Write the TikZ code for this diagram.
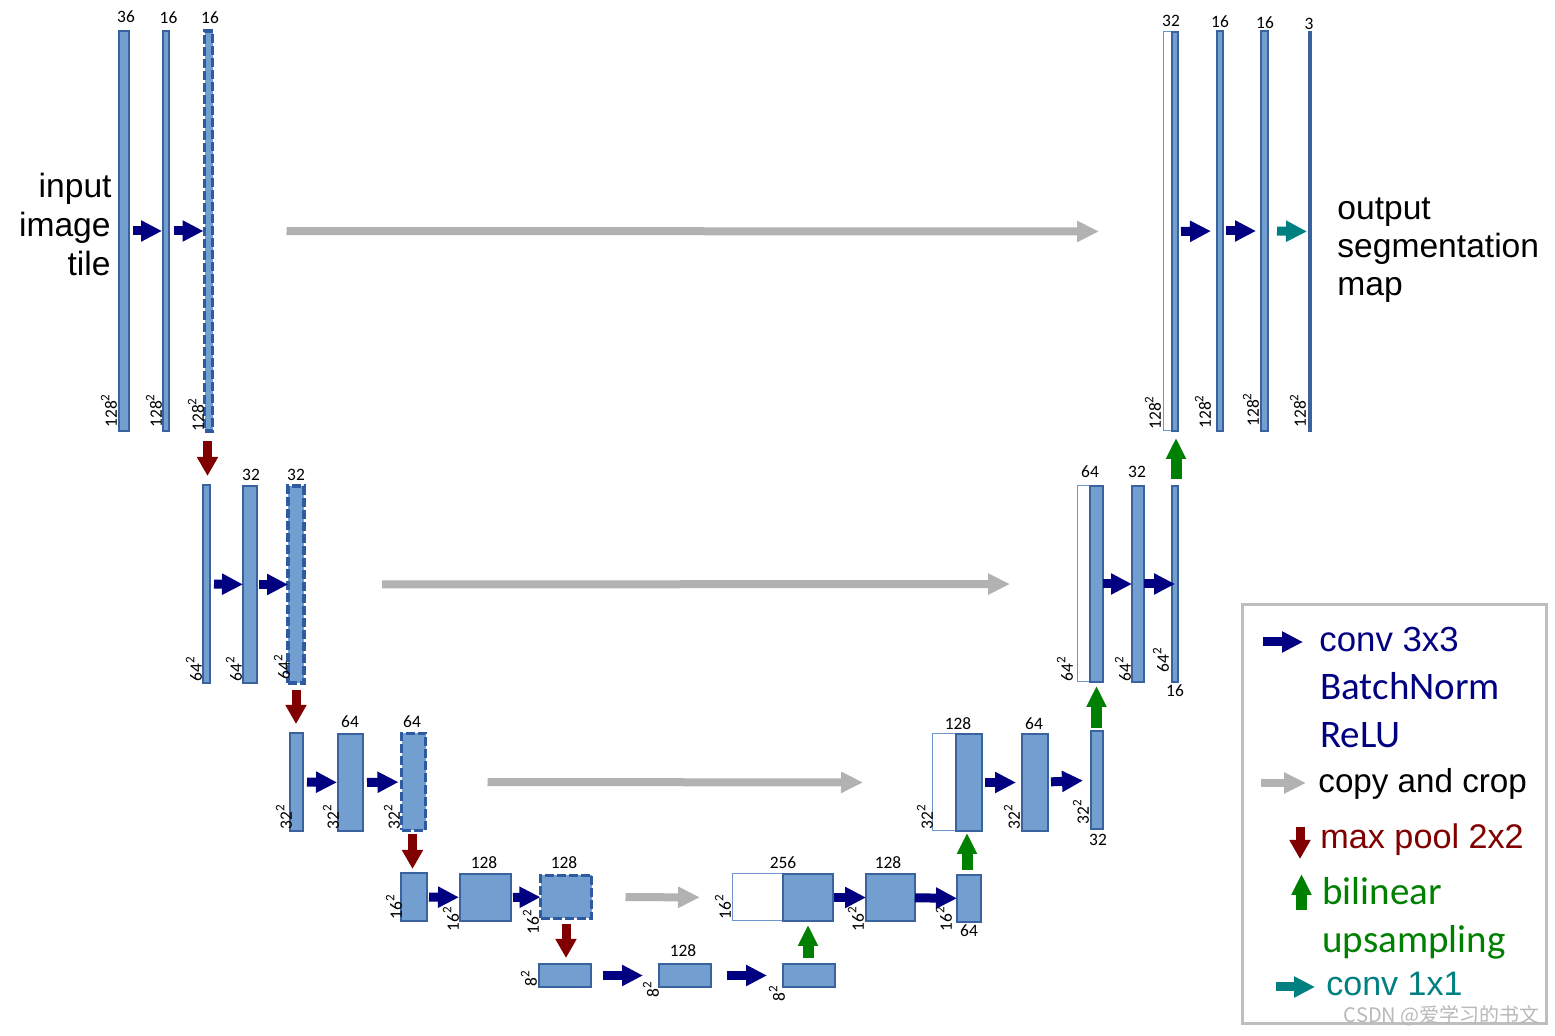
\documentclass[tikz,border=0pt]{standalone}
\usepackage{fontspec}
\setmainfont{Liberation Sans}
\newfontfamily\calib{Carlito}
\newfontfamily\cjkf{Noto Sans CJK SC}
\usetikzlibrary{arrows.meta,fit}
\definecolor{barfill}{RGB}{114,159,207}
\definecolor{barline}{RGB}{58,98,158}
\definecolor{dashline}{RGB}{45,90,160}
\definecolor{whiteline}{RGB}{110,150,205}
\definecolor{convc}{RGB}{0,0,128}
\definecolor{poolc}{RGB}{128,0,0}
\definecolor{upc}{RGB}{0,128,0}
\definecolor{copyc}{RGB}{178,178,178}
\definecolor{tealc}{RGB}{0,128,128}
\definecolor{legc}{RGB}{190,190,190}
\tikzset{
 blkbar/.style={draw=barline, fill=barfill, line width=0.6pt, inner sep=0pt, outer sep=0pt},
 dashbar/.style={draw=dashline, fill=barfill, line width=1.6pt, dash pattern=on 4.5pt off 1.5pt, inner sep=0pt, outer sep=0pt},
 whitebar/.style={draw=whiteline, fill=white, line width=0.5pt, inner sep=0pt, outer sep=0pt},
 thinbar/.style={draw=barline, line width=0.6pt, inner sep=0pt, outer sep=0pt},
 convarr/.style={draw=convc, line width=4.5pt, -{Triangle[length=10.5pt,width=10pt]}},
 copyarr/.style={draw=copyc, line width=4pt, -{Triangle[length=11pt,width=10pt]}},
 poolarr/.style={draw=poolc, line width=4.5pt, -{Triangle[length=9.5pt,width=10pt]}},
 uparr/.style={draw=upc, line width=5.5pt, -{Triangle[length=10.5pt,width=9.5pt]}},
 tealarr/.style={draw=tealc, line width=4.5pt, -{Triangle[length=10.5pt,width=10pt]}},
 num/.style={font=\calib\fontsize{8.7}{10}\selectfont, inner sep=0pt},
 rnum/.style={num, rotate=90, anchor=west},
 biglab/.style={font=\fontsize{16.8}{19}\selectfont, inner sep=0pt},
}
\newcommand\sq{\raisebox{0.9ex}{\fontsize{6.5}{7}\selectfont 2}}
\newcommand\blk[6]{\node[#6, fit={(#2,#3)(#4,#5)}] (#1) {};}
\begin{document}
\begin{tikzpicture}[x=0.5pt,y=-0.5pt]
\fill[white] (0,0) rectangle (1555,1036);
\useasboundingbox (0,0) rectangle (1555,1036);
% ---- bars ----
\blk{a1}{119}{31}{129}{431}{blkbar}
\blk{a2}{163}{31}{169}{431}{blkbar}
\blk{a3}{204.5}{31}{212.5}{431}{dashbar}
\blk{b1}{203}{485}{210}{683}{blkbar}
\blk{b2}{243}{486}{257}{683}{blkbar}
\blk{b3}{288}{486}{304}{683}{dashbar}
\blk{c1}{290}{733}{303}{831}{blkbar}
\blk{c2}{338}{734}{363}{831}{blkbar}
\blk{c3}{401.5}{733.5}{425.5}{830.5}{dashbar}
\blk{d1}{401}{873}{427}{921}{blkbar}
\blk{d2}{460}{874}{511}{921}{blkbar}
\blk{d3}{540.5}{875.5}{591.5}{918.5}{dashbar}
\blk{e1}{539}{964}{591}{987}{blkbar}
\blk{e2}{659}{964}{711}{987}{blkbar}
\blk{e3}{783}{964}{835}{987}{blkbar}
\blk{f1w}{732}{874}{783}{921}{whitebar}
\blk{f1}{783}{874}{833}{921}{blkbar}
\blk{f2}{866}{874}{915}{921}{blkbar}
\blk{f3}{957}{875}{981}{922}{blkbar}
\blk{g1w}{932}{734}{956}{831}{whitebar}
\blk{g1}{956}{734}{982}{831}{blkbar}
\blk{g2}{1022}{734}{1048}{831}{blkbar}
\blk{g3}{1091}{731}{1103}{829}{blkbar}
\blk{h1w}{1077}{486}{1090}{682}{whitebar}
\blk{h1}{1090}{486}{1103}{682}{blkbar}
\blk{h2}{1132}{486}{1144}{682}{blkbar}
\blk{h3}{1172}{486}{1178}{682}{blkbar}
\blk{i1w}{1163}{32}{1172}{431}{whitebar}
\blk{i1}{1172}{32}{1178}{431}{blkbar}
\blk{i2}{1217}{31}{1223}{431}{blkbar}
\blk{i3}{1261}{31}{1268}{431}{blkbar}
\blk{i4}{1309.5}{32}{1310.5}{431}{thinbar}
% ---- conv arrows ----
\draw[convarr, shorten <=2pt, shorten >=0.5pt] (a1) -- (a2);
\draw[convarr, shorten <=2.5pt, shorten >=0.5pt] (a2) -- (a3);
\draw[convarr, shorten <=2pt] (b1) -- (b2);
\draw[convarr, shorten <=1pt] (b2) -- (b3);
\draw[convarr, shorten <=2pt, shorten >=0.5pt] (c1) -- (c2);
\draw[convarr, shorten <=2pt, shorten >=1.5pt] (c2) -- (c3);
\draw[convarr, shorten <=1pt, shorten >=0.5pt] (d1) -- (d2);
\draw[convarr, shorten <=1pt] (d2) -- (d3);
\draw[convarr, shorten <=6pt, shorten >=8pt] (e1) -- (e2);
\draw[convarr, shorten <=8pt, shorten >=8pt] (e2) -- (e3);
\draw[convarr, shorten <=0.5pt] (f1) -- (f2);
\draw[convarr] (f2) -- (f3);
\draw[convarr, shorten <=1.5pt, shorten >=3pt] (g1) -- (g2);
\draw[convarr, shorten <=1.5pt, shorten >=4pt] (g2) -- (g3);
\draw[convarr] (h1) -- (h2);
\draw[convarr, shorten >=-1.5pt] (h2) -- (h3);
\draw[convarr, shorten <=1.5pt, shorten >=3pt] (i1) -- (i2);
\draw[convarr, shorten <=1.5pt, shorten >=2.5pt] (i2) -- (i3);
\draw[tealarr, shorten <=4.5pt, shorten >=1pt] (i3) -- (i4);
% ---- copy arrows ----
\draw[copyarr, shorten <=37pt, shorten >=32pt] (a3) -- (i1w);
\draw[copyarr, shorten <=39pt, shorten >=33.5pt] (b3) -- (h1w);
\draw[copyarr, shorten <=31pt, shorten >=34.5pt] (c3) -- (g1w);
\draw[copyarr, shorten <=17pt, shorten >=16pt] (d3) -- (f1w);
% ---- max pool arrows ----
\draw[poolarr, shorten <=5pt, shorten >=4.5pt] ([xshift=-0.5pt]a3.south) -- ([xshift=-0.5pt]a3.south |- b1.north);
\draw[poolarr, shorten <=3.5pt, shorten >=4.5pt] (b3.south) -- (b3.south |- c1.north);
\draw[poolarr, shorten <=2pt, shorten >=2pt] ([xshift=-0.5pt]c3.south) -- ([xshift=-0.5pt]c3.south |- d1.north);
\draw[poolarr, shorten <=3pt, shorten >=3pt] (d3.south) -- (d3.south |- e1.north);
% ---- upsampling arrows ----
\draw[uparr, shorten <=3pt, shorten >=2pt] (f1.south |- e3.north) -- (f1.south);
\draw[uparr, shorten <=2.5pt, shorten >=1pt] ([xshift=-1pt]g1.south |- f3.north) -- ([xshift=-1pt]g1.south);
\draw[uparr, shorten <=1.5pt, shorten >=2pt] (h1.south |- g3.north) -- (h1.south);
\draw[uparr, shorten <=3.5pt, shorten >=3.5pt] ([xshift=0.5pt]i1.south |- h3.north) -- ([xshift=0.5pt]i1.south);
% ---- numbers above / below ----
\node[num] (n1) at (126,17) {36};
\node[num] (n2) at (168.5,18) {16};
\node[num] (n3) at (210,18) {16};
\node[num] (n4) at (251,475) {32};
\node[num] (n5) at (296,475) {32};
\node[num] (n6) at (350,722) {64};
\node[num] (n7) at (412,722) {64};
\node[num] (n8) at (484,863) {128};
\node[num] (n9) at (564,863) {128};
\node[num] (n10) at (683,951) {128};
\node[num] (n11) at (783,863) {256};
\node[num] (n12) at (888,863) {128};
\node[num] (n13) at (969,931) {64};
\node[num] (n14) at (958,724) {128};
\node[num] (n15) at (1034,724) {64};
\node[num] (n16) at (1098,840) {32};
\node[num] (n17) at (1090,472) {64};
\node[num] (n18) at (1137,472) {32};
\node[num] (n19) at (1175,691) {16};
\node[num] (n20) at (1171,21) {32};
\node[num] (n21) at (1220,22) {16};
\node[num] (n22) at (1265,23) {16};
\node[num] (n23) at (1309,24) {3};
% ---- rotated size labels ----
\node[rnum] (r1) at (109,428) {128\sq};
\node[rnum] (r2) at (154,428) {128\sq};
\node[rnum] (r3) at (196,432) {128\sq};
\node[rnum] (r4) at (194,682) {64\sq};
\node[rnum] (r5) at (234,682) {64\sq};
\node[rnum] (r6) at (282,680) {64\sq};
\node[rnum] (r7) at (284,830) {32\sq};
\node[rnum] (r8) at (331,830) {32\sq};
\node[rnum] (r9) at (392,830) {32\sq};
\node[rnum] (r10) at (394,920) {16\sq};
\node[rnum] (r11) at (451,932) {16\sq};
\node[rnum] (r12) at (531,935) {16\sq};
\node[rnum] (r13) at (529,987) {8\sq};
\node[rnum] (r14) at (651,998) {8\sq};
\node[rnum] (r15) at (777,1002) {8\sq};
\node[rnum] (r16) at (723,920) {16\sq};
\node[rnum] (r17) at (856,932) {16\sq};
\node[rnum] (r18) at (944,932) {16\sq};
\node[rnum] (r19) at (925,830) {32\sq};
\node[rnum] (r20) at (1012,830) {32\sq};
\node[rnum] (r21) at (1081,825) {32\sq};
\node[rnum] (r22) at (1065,682) {64\sq};
\node[rnum] (r23) at (1123,682) {64\sq};
\node[rnum] (r24) at (1161,673) {64\sq};
\node[rnum] (r25) at (1153,430) {128\sq};
\node[rnum] (r26) at (1203,429) {128\sq};
\node[rnum] (r27) at (1251,427) {128\sq};
\node[rnum] (r28) at (1298,428) {128\sq};
% ---- big labels ----
\node[biglab, anchor=base east] (in1) at (112,198) {input};
\node[biglab, anchor=base east] (in2) at (111,237) {image};
\node[biglab, anchor=base east] (in3) at (111,276) {tile};
\node[biglab, anchor=base west] (out1) at (1337,220) {output};
\node[biglab, anchor=base west] (out2) at (1337,258) {segmentation};
\node[biglab, anchor=base west] (out3) at (1337,296) {map};
% ---- legend ----
\node[draw=legc, line width=1.5pt, inner sep=0pt, fit={(1242,605)(1546,1024)}] (legend) {};
\coordinate (lc1) at (1263,642); \coordinate (lc2) at (1303,642);
\draw[convarr] (lc1) -- (lc2);
\coordinate (lg1) at (1261,783); \coordinate (lg2) at (1306,783);
\draw[copyarr] (lg1) -- (lg2);
\coordinate (lp1) at (1300,827); \coordinate (lp2) at (1300,859);
\draw[poolarr] (lp1) -- (lp2);
\coordinate (lu1) at (1301.5,910); \coordinate (lu2) at (1301.5,874);
\draw[uparr] (lu1) -- (lu2);
\coordinate (lt1) at (1276,987); \coordinate (lt2) at (1315,987);
\draw[tealarr] (lt1) -- (lt2);
\node[anchor=base west, inner sep=0pt, text=convc, font=\fontsize{17.4}{20}\selectfont] (tl1) at (1319,651.5) {conv 3x3};
\node[anchor=base west, inner sep=0pt, text=convc, font=\calib\fontsize{19.5}{23}\selectfont] (tl2) at (1320,700) {BatchNorm};
\node[anchor=base west, inner sep=0pt, text=convc, font=\calib\fontsize{19.5}{23}\selectfont] (tl3) at (1320,748) {ReLU};
\node[anchor=base west, inner sep=0pt, text=black, font=\fontsize{16.6}{19}\selectfont] (tl4) at (1318,793) {copy and crop};
\node[anchor=base west, inner sep=0pt, text=poolc, font=\fontsize{17.1}{20}\selectfont] (tl5) at (1320,849) {max pool 2x2};
\node[anchor=base west, inner sep=0pt, text=upc, font=\calib\fontsize{19.5}{23}\selectfont] (tl6) at (1322,905) {bilinear};
\node[anchor=base west, inner sep=0pt, text=upc, font=\calib\fontsize{19.5}{23}\selectfont] (tl7) at (1322,953) {upsampling};
\node[anchor=base west, inner sep=0pt, text=tealc, font=\fontsize{17}{20}\selectfont] (tl8) at (1326,995.5) {conv 1x1};
\node[anchor=base east, inner sep=0pt, text=gray!55, font=\cjkf\fontsize{10}{12}\selectfont] (wm) at (1540,1023) {CSDN @爱学习的书文};
\end{tikzpicture}
\end{document}
